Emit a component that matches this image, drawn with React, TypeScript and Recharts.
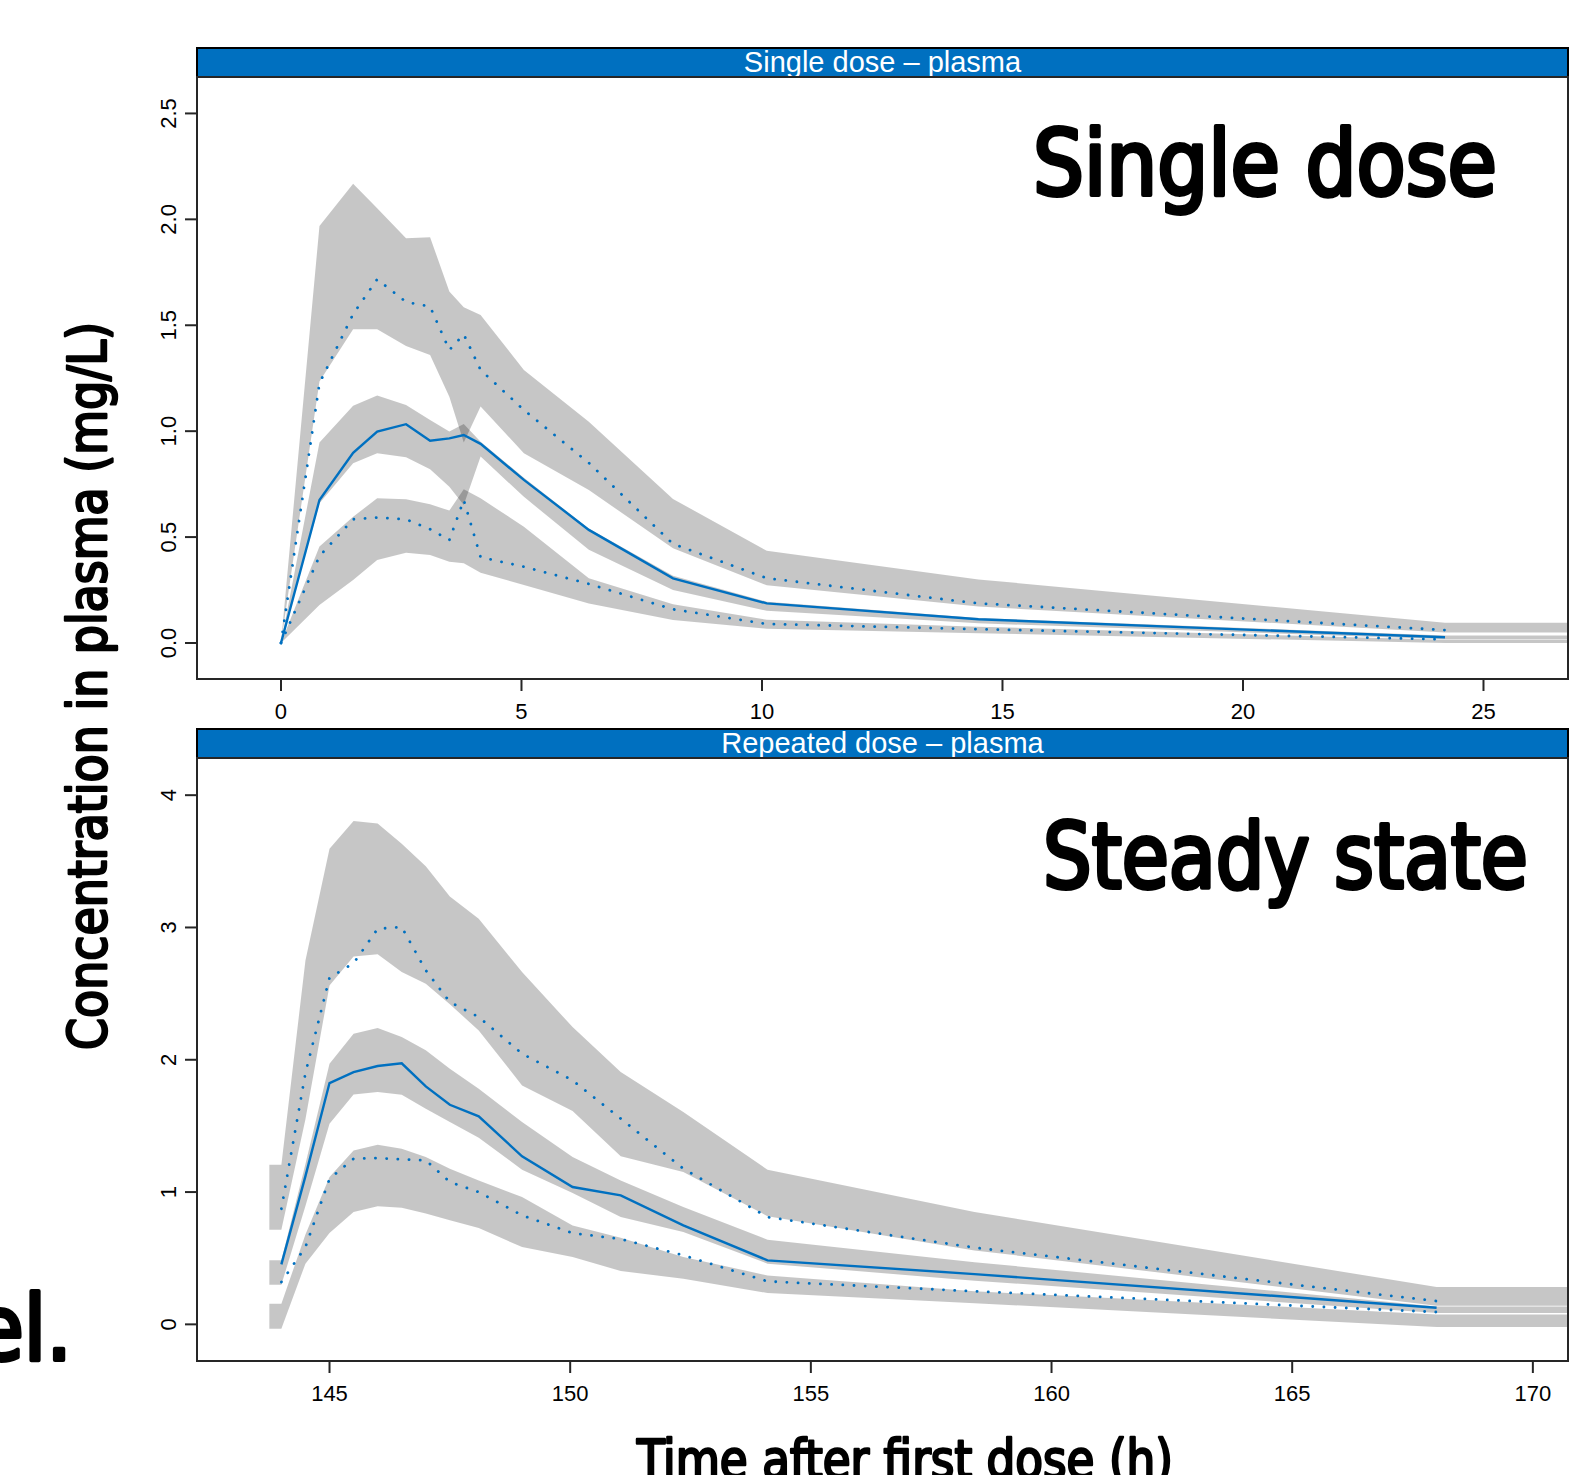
import React from 'react';
import { Area, ComposedChart, Line, XAxis, YAxis } from 'recharts';

// VPC style: grey bands are simulated CIs, blue lines are observed percentiles
const BLUE = '#0070c0';
const FRAME = '#262626';
const HELV = "'Liberation Sans', Arial, Helvetica, sans-serif";
const DIN = "'DejaVu Sans Condensed', 'DejaVu Sans', sans-serif";

// ---- single dose panel (time in h) ----
const singleTime = [0, 0.8, 1.5, 2.0, 2.6, 3.1, 3.5, 3.8, 4.15, 5.05, 6.4, 8.15, 10.1, 14.5, 24.2, 28];
const singleHiBandLo = [0, 1.234, 1.481, 1.481, 1.402, 1.36, 1.163, 0.946, 1.116, 0.896, 0.722, 0.447, 0.272, 0.172, 0.049, 0.049];
const singleHiBandHi = [0, 1.969, 2.168, 2.052, 1.911, 1.916, 1.659, 1.585, 1.549, 1.289, 1.045, 0.68, 0.435, 0.3, 0.096, 0.096];
const singleMidBandLo = [0, 0.66, 0.848, 0.896, 0.877, 0.82, 0.738, 0.652, 0.88, 0.69, 0.44, 0.25, 0.152, 0.093, 0.018, 0.018];
const singleMidBandHi = [0, 0.946, 1.12, 1.168, 1.124, 1.053, 0.998, 1.034, 0.95, 0.78, 0.54, 0.318, 0.195, 0.118, 0.035, 0.035];
const singleLoBandLo = [0, 0.179, 0.297, 0.392, 0.426, 0.415, 0.384, 0.376, 0.332, 0.274, 0.187, 0.109, 0.067, 0.046, 0.0, 0.0];
const singleLoBandHi = [0, 0.455, 0.596, 0.683, 0.678, 0.655, 0.625, 0.726, 0.683, 0.549, 0.306, 0.183, 0.11, 0.077, 0.015, 0.015];
const singleObs95 = [0, 1.226, 1.553, 1.717, 1.61, 1.588, 1.383, 1.457, 1.289, 1.1, 0.85, 0.468, 0.306, 0.187, 0.061, null];
const singleObs50 = [0, 0.675, 0.898, 0.998, 1.033, 0.955, 0.966, 0.982, 0.94, 0.77, 0.534, 0.305, 0.187, 0.112, 0.027, null];
const singleObs5 = [0, 0.41, 0.584, 0.592, 0.584, 0.537, 0.486, 0.675, 0.405, 0.36, 0.279, 0.159, 0.09, 0.065, 0.017, null];
const singleXTicks = [0, 5, 10, 15, 20, 25];
const singleYTicks = [0, 0.5, 1, 1.5, 2, 2.5];

// ---- repeated dose panel ----
const repTime = [143.75, 144.0, 144.5, 145.0, 145.5, 146.0, 146.5, 147.0, 147.5, 148.1, 149.0, 150.05, 151.05, 152.35, 154.1, 158.4, 168.0, 172];
const repHiBandLo = [0.716, 0.716, 1.55, 2.562, 2.78, 2.797, 2.663, 2.575, 2.419, 2.222, 1.806, 1.612, 1.27, 1.151, 0.818, 0.559, 0.14, 0.14];
const repHiBandHi = [1.207, 1.207, 2.751, 3.595, 3.805, 3.785, 3.633, 3.462, 3.235, 3.066, 2.663, 2.247, 1.907, 1.605, 1.169, 0.849, 0.282, 0.282];
const repMidBandLo = [0.3, 0.3, 0.894, 1.517, 1.738, 1.756, 1.736, 1.63, 1.529, 1.411, 1.169, 0.993, 0.811, 0.698, 0.459, 0.33, 0.085, 0.085];
const repMidBandHi = [0.484, 0.484, 1.212, 1.97, 2.197, 2.24, 2.172, 2.071, 1.933, 1.781, 1.529, 1.265, 1.088, 0.887, 0.64, 0.47, 0.135, 0.135];
const repLoBandLo = [-0.033, -0.033, 0.459, 0.69, 0.849, 0.892, 0.882, 0.837, 0.786, 0.728, 0.584, 0.509, 0.403, 0.345, 0.237, 0.16, -0.02, -0.02];
const repLoBandHi = [0.156, 0.156, 0.68, 1.113, 1.315, 1.358, 1.328, 1.265, 1.177, 1.088, 0.962, 0.748, 0.655, 0.509, 0.37, 0.25, 0.075, 0.075];
const repObs95 = [null, 0.874, 1.9, 2.62, 2.73, 2.99, 3.003, 2.676, 2.436, 2.323, 2.046, 1.844, 1.555, 1.177, 0.811, 0.58, 0.176, null];
const repObs50 = [null, 0.453, 1.12, 1.824, 1.907, 1.953, 1.973, 1.799, 1.66, 1.572, 1.27, 1.038, 0.975, 0.748, 0.484, 0.38, 0.126, null];
const repObs5 = [null, 0.32, 0.584, 1.1, 1.252, 1.257, 1.247, 1.24, 1.076, 1.0, 0.824, 0.69, 0.645, 0.522, 0.325, 0.25, 0.093, null];
const repXTicks = [145, 150, 155, 160, 165, 170];
const repYTicks = [0, 1, 2, 3, 4];

type Num = number | null;

function makeRows(
  time: number[], hiLo: number[], hiHi: number[], midLo: number[], midHi: number[],
  loLo: number[], loHi: number[], p95: Num[], p50: Num[], p5: Num[],
) {
  return time.map((t, i) => ({
    t,
    upper: [hiLo[i], hiHi[i]],
    middle: [midLo[i], midHi[i]],
    lower: [loLo[i], loHi[i]],
    p95: p95[i],
    p50: p50[i],
    p5: p5[i],
  }));
}

const singleRows = makeRows(singleTime, singleHiBandLo, singleHiBandHi, singleMidBandLo, singleMidBandHi,
  singleLoBandLo, singleLoBandHi, singleObs95, singleObs50, singleObs5);
const repRows = makeRows(repTime, repHiBandLo, repHiBandHi, repMidBandLo, repMidBandHi,
  repLoBandLo, repLoBandHi, repObs95, repObs50, repObs5);

const XTick = (props: any) => (
  <text x={props.x} y={props.y + 26} textAnchor="middle" fontSize={22} fontFamily={HELV} fill="#000">
    {props.payload.value}
  </text>
);

const makeYTick = (fmt: (v: number) => string) => (props: any) => {
  const bx = props.x - 7;
  return (
    <text x={bx} y={props.y} transform={`rotate(-90 ${bx} ${props.y})`} textAnchor="middle"
      fontSize={22} fontFamily={HELV} fill="#000">
      {fmt(props.payload.value)}
    </text>
  );
};

interface PanelProps {
  top: number;
  plotHeight: number;
  rows: ReturnType<typeof makeRows>;
  xDomain: [number, number];
  yDomain: [number, number];
  xTicks: number[];
  yTicks: number[];
  yFmt: (v: number) => string;
}

function Panel({ top, plotHeight, rows, xDomain, yDomain, xTicks, yTicks, yFmt }: PanelProps) {
  const band = { type: 'linear' as const, fill: '#000', fillOpacity: 0.224, stroke: 'none', isAnimationActive: false, dot: false, activeDot: false };
  const tickLine = { stroke: FRAME, strokeWidth: 2 };
  return (
    <div style={{ position: 'absolute', left: 0, top }}>
      <ComposedChart width={1584} height={plotHeight + 70} data={rows} margin={{ top: 0, right: 16, bottom: 0, left: 0 }}>
        <XAxis type="number" dataKey="t" domain={xDomain} ticks={xTicks} allowDataOverflow interval={0}
          axisLine={false} tickLine={tickLine} tickSize={12} height={70} tick={XTick} />
        <YAxis type="number" domain={yDomain} ticks={yTicks} allowDataOverflow interval={0}
          axisLine={false} tickLine={tickLine} tickSize={12} width={197} tick={makeYTick(yFmt)} />
        <Area dataKey="upper" {...band} />
        <Area dataKey="middle" {...band} />
        <Area dataKey="lower" {...band} />
        <Line type="linear" dataKey="p95" stroke={BLUE} strokeWidth={2.8} strokeDasharray="0.1 11.1"
          strokeLinecap="round" dot={false} activeDot={false} isAnimationActive={false} />
        <Line type="linear" dataKey="p5" stroke={BLUE} strokeWidth={2.8} strokeDasharray="0.1 11.1"
          strokeLinecap="round" dot={false} activeDot={false} isAnimationActive={false} />
        <Line type="linear" dataKey="p50" stroke={BLUE} strokeWidth={2.4} dot={false} activeDot={false}
          isAnimationActive={false} />
      </ComposedChart>
    </div>
  );
}

// medium-weight look: regular glyphs thickened with an outline
const bigText = { fontFamily: DIN, fill: '#000', stroke: '#000', strokeLinejoin: 'round' as const, lengthAdjust: 'spacingAndGlyphs' as const };

export default function App() {
  return (
    <div style={{ position: 'absolute', left: 0, top: 0, width: 1584, height: 1475, overflow: 'hidden', background: '#fff' }}>
      <Panel top={77} plotHeight={602} rows={singleRows} xDomain={[-1.746, 26.757]} yDomain={[-0.17, 2.672]}
        xTicks={singleXTicks} yTicks={singleYTicks} yFmt={(v) => v.toFixed(1)} />
      <Panel top={758} plotHeight={603} rows={repRows} xDomain={[142.247, 170.73]} yDomain={[-0.277, 4.281]}
        xTicks={repXTicks} yTicks={repYTicks} yFmt={(v) => String(v)} />

      <svg width={1584} height={1475} style={{ position: 'absolute', left: 0, top: 0, pointerEvents: 'none' }}>
        {/* strips + frames */}
        <rect x={197} y={48} width={1371} height={29} fill={BLUE} stroke="#000" strokeWidth={2} />
        <text x={882.5} y={72} textAnchor="middle" fontSize={29} fontFamily={HELV} fill="#fff">Single dose – plasma</text>
        <rect x={197} y={77} width={1371} height={602} fill="none" stroke={FRAME} strokeWidth={2} />

        <rect x={197} y={729} width={1371} height={29} fill={BLUE} stroke="#000" strokeWidth={2} />
        <text x={882.5} y={753} textAnchor="middle" fontSize={29} fontFamily={HELV} fill="#fff">Repeated dose – plasma</text>
        <rect x={197} y={758} width={1371} height={603} fill="none" stroke={FRAME} strokeWidth={2} />

        {/* slide annotations */}
        <text x={1033} y={195} fontSize={90} strokeWidth={4} textLength={464} {...bigText}>Single dose</text>
        <text x={1043} y={888} fontSize={90} strokeWidth={4} textLength={485} {...bigText}>Steady state</text>
        <text x={72} y={1360} textAnchor="end" fontSize={90} strokeWidth={4} {...bigText}>el.</text>

        <text x={106} y={686} transform="rotate(-90 106 686)" textAnchor="middle" fontSize={53} strokeWidth={2.4}
          textLength={728} {...bigText}>Concentration in plasma (mg/L)</text>
        <text x={637} y={1478} fontSize={53} strokeWidth={2.4} textLength={536} {...bigText}>Time after first dose (h)</text>
      </svg>
    </div>
  );
}
